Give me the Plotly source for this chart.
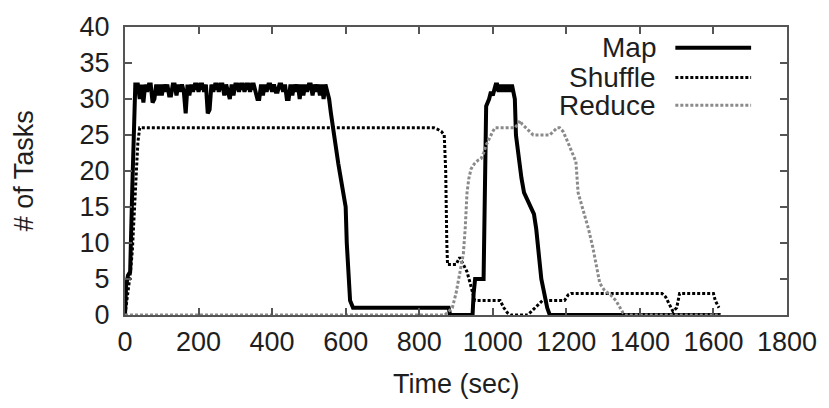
import plotly.graph_objects as go

# ---------------- data ----------------
map_t = [0, 3, 8, 14, 20, 25, 28,
         30, 35, 40, 45, 50, 55, 60, 65, 70, 75, 80, 85, 90, 95, 100, 105, 110, 115, 120, 125,
         130, 135, 140, 145, 150, 155, 160, 165, 170, 175, 180, 185, 190, 195, 200, 205, 210,
         215, 220, 225, 230, 235, 240, 245, 250, 255, 260, 265, 270, 275, 280, 285, 290, 295,
         300, 305, 310, 315, 320, 325, 330, 335, 340, 345, 350, 355, 360, 365, 370, 375, 380,
         385, 390, 395, 400, 405, 410, 415, 420, 425, 430, 435, 440, 445, 450, 455, 460, 465,
         470, 475, 480, 485, 490, 495, 500, 505, 510, 515, 520, 525, 530, 535, 540, 545, 550,
         555, 560, 565, 570, 575, 580, 585, 590, 595, 600, 603, 607, 612, 620, 880, 884, 945,
         948, 952, 975, 978, 982, 990, 995, 1000, 1004, 1008, 1012, 1016, 1020, 1024, 1028,
         1032, 1036, 1040, 1044, 1048, 1052, 1056, 1060, 1063, 1070, 1078, 1085, 1095, 1105,
         1112, 1118, 1125, 1132, 1140, 1148, 1155, 1620]
map_v = [0, 4, 5.5, 6, 18, 30, 32,
         32, 32, 30, 32, 29.5, 32, 31, 32, 32, 29.5, 30, 32, 30.5, 32, 30.5, 32, 31, 32, 30.5, 30.5,
         32, 32, 30.5, 32, 31, 32, 31, 28, 32, 30.5, 32, 31, 32, 32, 31, 32, 32,
         31, 32, 28, 28.5, 32, 31, 32, 32, 31, 32, 32, 30.5, 32, 31, 30, 32, 30.5,
         32, 32, 31, 32, 32, 31, 32, 32, 31, 32, 32, 31, 30, 30, 32, 30.5, 32,
         31, 32, 32, 31, 32, 31, 31, 32, 32, 31, 32, 30, 30, 32, 30.5, 32, 31,
         32, 30, 32, 30.5, 32, 31, 32, 32, 30.5, 32, 31, 32, 30.5, 32, 30, 32, 31,
         30, 28, 26, 24, 22.5, 21, 19.5, 18, 17, 15, 10, 5, 2, 1, 1, 0, 0,
         3, 5, 5, 15, 29, 30, 31, 30.5, 31.5, 32, 32, 31, 32, 31, 32,
         31, 32, 31, 32, 31, 32, 31, 30, 25, 22, 19, 17, 16, 15,
         14, 12, 9, 5, 3, 1, 0, 0]

shuffle_t = [0, 5, 10, 15, 20, 25, 30, 35, 40, 840, 850, 860, 868, 872, 875, 877, 890, 900,
             910, 920, 930, 938, 945, 951, 1020, 1030, 1040, 1050, 1095, 1105, 1115, 1125,
             1135, 1195, 1205, 1213, 1460, 1470, 1480, 1490, 1500, 1508, 1600, 1605, 1615]
shuffle_v = [0, 2, 4, 6, 9, 14, 20, 24, 26, 26, 25.8, 25.5, 25, 20, 10, 7, 7, 7,
             8, 7, 6, 4.5, 3, 2, 2, 1, 0.3, 0, 0, 0.5, 1, 1.5,
             2, 2, 2.8, 3, 3, 2.5, 1.5, 0.5, 1, 3, 3, 2, 1]

reduce_t = [0, 870, 880, 890, 900, 910, 920, 925, 930, 935, 941, 950, 960, 968, 975, 982,
            990, 1000, 1006, 1060, 1068, 1074, 1080, 1090, 1100, 1110, 1123, 1140, 1155,
            1165, 1175, 1182, 1191, 1200, 1213, 1226, 1232, 1240, 1250, 1260, 1272, 1282,
            1291, 1304, 1320, 1335, 1345, 1354, 1360, 1620]
reduce_v = [0, 0, 0.5, 1, 3, 6, 8.5, 12, 17, 19, 20.3, 21, 21.5, 21.7, 22.5, 23.6,
            24.5, 25.5, 26, 26, 26.5, 27, 26.5, 26, 25.5, 25, 25, 25, 25,
            25.5, 26, 26, 25.5, 24.5, 23, 21.3, 17, 15.5, 14, 12, 9.4, 6.5,
            4.4, 3.4, 2.8, 2, 1, 0.3, 0, 0]

x_ticks = [0, 200, 400, 600, 800, 1000, 1200, 1400, 1600, 1800]
y_ticks = [0, 5, 10, 15, 20, 25, 30, 35, 40]
series_names = ["Map", "Shuffle", "Reduce"]

# ---------------- styles ----------------
FONT = "Liberation Sans, Arial, sans-serif"
TXT = "#1e1e1e"
FRAME = "#555555"
styles = [
    dict(color="black", width=4, dash="solid"),
    dict(color="black", width=3, dash="3px,2px"),
    dict(color="#8a8a8a", width=3, dash="3px,2px"),
]

fig = go.Figure()
for name, t, v, st in zip(series_names, [map_t, shuffle_t, reduce_t],
                          [map_v, shuffle_v, reduce_v], styles):
    fig.add_trace(go.Scatter(x=t, y=v, mode="lines", name=name, line=st, showlegend=False))

L, R, T, B = 125, 40, 24, 93
W, H = 829, 408
pw, ph = W - L - R, H - T - B


def px2paper_x(px):
    return (px - L) / pw


def px2paper_y(py):
    return (H - B - py) / ph


# manual gnuplot-style legend (text then sample)
leg_y = [45, 75, 103]
for name, st, yy in zip(series_names, styles, leg_y):
    fig.add_annotation(x=px2paper_x(660), y=px2paper_y(yy), xref="paper", yref="paper",
                       text=name, showarrow=False, xanchor="right", yanchor="middle",
                       font=dict(family=FONT, size=28, color=TXT))
    fig.add_shape(type="line", xref="paper", yref="paper",
                  x0=px2paper_x(677), x1=px2paper_x(753),
                  y0=px2paper_y(yy), y1=px2paper_y(yy), line=st)

fig.add_annotation(x=px2paper_x(24), y=0.5, xref="paper", yref="paper", text="# of Tasks",
                   textangle=-90, showarrow=False, xanchor="center", yanchor="middle",
                   font=dict(family=FONT, size=27, color=TXT))
fig.add_annotation(x=0.5, y=px2paper_y(385), xref="paper", yref="paper", text="Time (sec)",
                   showarrow=False, xanchor="center", yanchor="middle",
                   font=dict(family=FONT, size=27, color=TXT))

axis_common = dict(showline=True, linecolor=FRAME, linewidth=2, mirror="ticks",
                   ticks="inside", ticklen=7, tickcolor=FRAME, tickwidth=1.5,
                   showgrid=False, zeroline=False,
                   tickfont=dict(family=FONT, size=27, color=TXT))

fig.update_layout(
    width=W, height=H,
    margin=dict(l=L, r=R, t=T, b=B),
    paper_bgcolor="white", plot_bgcolor="white",
    xaxis=dict(range=[0, 1800], tickvals=x_ticks, ticktext=[str(v) for v in x_ticks],
               ticklabelstandoff=2, **axis_common),
    yaxis=dict(range=[0, 40], tickvals=y_ticks, ticktext=[str(v) for v in y_ticks],
               ticklabelstandoff=8, **axis_common),
)

fig.write_html("out.html")
